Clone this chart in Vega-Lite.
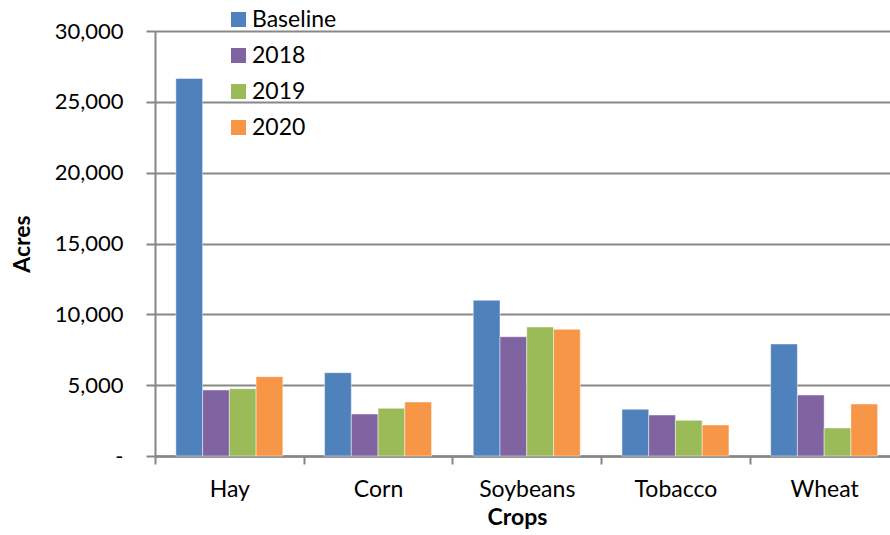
{
  "$schema": "https://vega.github.io/schema/vega-lite/v6.json",
  "width": 735,
  "height": 425,
  "autosize": {"type": "none"},
  "padding": {"left": 155, "top": 31, "right": 0, "bottom": 79},
  "background": "white",
  "data": {
    "values": [
      {"crop": "Hay", "series": "Baseline", "acres": 26650},
      {"crop": "Hay", "series": "2018", "acres": 4660},
      {"crop": "Hay", "series": "2019", "acres": 4750},
      {"crop": "Hay", "series": "2020", "acres": 5600},
      {"crop": "Corn", "series": "Baseline", "acres": 5880},
      {"crop": "Corn", "series": "2018", "acres": 2965},
      {"crop": "Corn", "series": "2019", "acres": 3365},
      {"crop": "Corn", "series": "2020", "acres": 3810},
      {"crop": "Soybeans", "series": "Baseline", "acres": 10990},
      {"crop": "Soybeans", "series": "2018", "acres": 8420},
      {"crop": "Soybeans", "series": "2019", "acres": 9105},
      {"crop": "Soybeans", "series": "2020", "acres": 8940},
      {"crop": "Tobacco", "series": "Baseline", "acres": 3295},
      {"crop": "Tobacco", "series": "2018", "acres": 2895},
      {"crop": "Tobacco", "series": "2019", "acres": 2520},
      {"crop": "Tobacco", "series": "2020", "acres": 2190},
      {"crop": "Wheat", "series": "Baseline", "acres": 7905},
      {"crop": "Wheat", "series": "2018", "acres": 4305},
      {"crop": "Wheat", "series": "2019", "acres": 1975},
      {"crop": "Wheat", "series": "2020", "acres": 3670}
    ]
  },
  "mark": {"type": "bar", "stroke": "white", "strokeWidth": 1, "strokeOpacity": 0.45},
  "encoding": {
    "x": {
      "field": "crop",
      "type": "nominal",
      "sort": ["Hay", "Corn", "Soybeans", "Tobacco", "Wheat"],
      "scale": {"paddingInner": 0, "paddingOuter": 0, "range": [0, 743.5]},
      "axis": {
        "title": "Crops",
        "labelAngle": 0,
        "tickBand": "extent",
        "tickSize": 8,
        "tickWidth": 2,
        "tickColor": "#868686",
        "domainColor": "#868686",
        "domainWidth": 2.5,
        "labelPadding": 14,
        "labelFont": "Lato",
        "labelFontSize": 23,
        "labelColor": "#000000",
        "titleFont": "Lato",
        "titleFontSize": 23,
        "titleFontWeight": "bold",
        "titleColor": "#000000",
        "titlePadding": 5,
        "titleX": 362
      }
    },
    "xOffset": {
      "field": "series",
      "type": "nominal",
      "sort": ["Baseline", "2018", "2019", "2020"],
      "scale": {"paddingInner": 0, "paddingOuter": 0.78}
    },
    "y": {
      "field": "acres",
      "type": "quantitative",
      "scale": {"domain": [0, 30000], "nice": false},
      "axis": {
        "title": "Acres",
        "values": [0, 5000, 10000, 15000, 20000, 25000, 30000],
        "labelExpr": "datum.value === 0 ? '-\\u2003' : format(datum.value, ',')",
        "grid": true,
        "gridColor": "#888888",
        "gridWidth": 2,
        "tickSize": 9,
        "tickWidth": 2,
        "tickColor": "#868686",
        "domainColor": "#868686",
        "domainWidth": 2,
        "labelPadding": 23,
        "labelFont": "Lato",
        "labelFontSize": 22,
        "labelColor": "#000000",
        "titleFont": "Lato",
        "titleFontSize": 23,
        "titleFontWeight": "bold",
        "titleColor": "#000000",
        "titlePadding": 20
      }
    },
    "color": {
      "field": "series",
      "type": "nominal",
      "scale": {
        "domain": ["Baseline", "2018", "2019", "2020"],
        "range": ["#4F81BD", "#8064A2", "#9BBB59", "#F79646"]
      },
      "legend": {
        "title": null,
        "orient": "none",
        "legendX": 72,
        "legendY": -23,
        "symbolType": "square",
        "symbolSize": 225,
        "symbolStrokeWidth": 0,
        "labelFont": "Lato",
        "labelFontSize": 23,
        "labelColor": "#000000",
        "labelOffset": 2,
        "rowPadding": 12,
        "padding": 0
      }
    }
  },
  "config": {
    "view": {"stroke": null}
  }
}
